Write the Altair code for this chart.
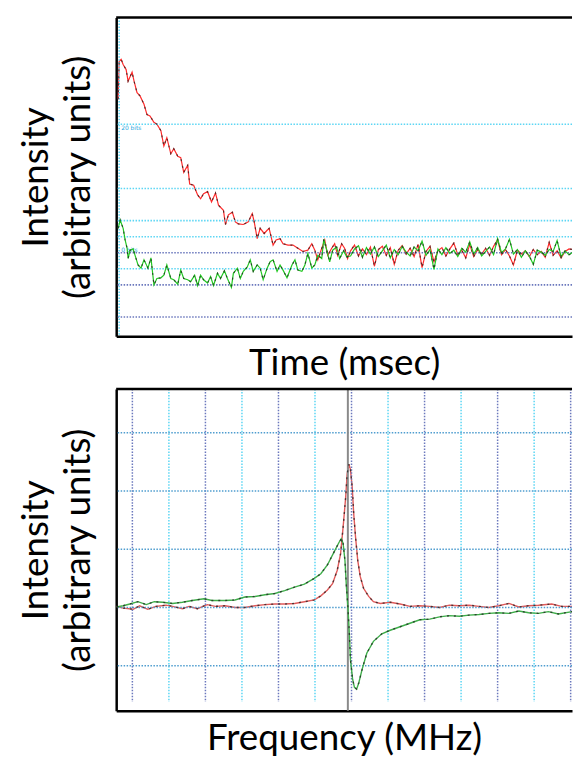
import altair as alt
import pandas as pd

# ---------------- top panel: time-domain signals ----------------
red_t = [2, 3, 5, 7, 10, 12, 16, 18, 21, 24, 28, 31, 34, 38, 41, 45, 48, 51, 55, 58,
         62, 65, 68, 72, 74, 78, 82, 85, 88, 92, 96, 100, 103, 108, 110, 113, 117, 120, 123, 128,
         133, 137, 139, 142, 145, 149, 152, 154, 158, 161, 165, 168, 173, 178, 183, 188, 193, 197, 200, 203,
         207, 210, 213, 217, 220, 223, 227, 230, 233,
         236, 240, 244, 248, 252, 256, 260, 264, 268, 272, 276, 280, 284, 288, 292, 296, 300, 304, 308, 312,
         316, 320, 324, 328, 332, 336, 340, 344, 348, 352, 356, 360, 364, 368, 372, 376, 380, 384, 388, 392,
         396, 400, 404, 408, 412, 416, 420, 424, 428, 432, 436, 440, 444, 448, 452, 456, 460]
red_v = [23.9, 29.8, 30.1, 29.3, 28.5, 26.7, 28.1, 26.7, 24.9, 24.4, 23.1, 21.5, 21.3, 20.3, 20.0, 19.0, 16.6, 17.9, 15.4, 16.2,
         15.0, 14.8, 12.5, 13.6, 10.7, 10.5, 9.0, 8.4, 9.2, 9.5, 7.9, 9.3, 7.4, 6.6, 4.4, 5.9, 6.3, 4.8, 4.5, 4.4,
         4.8, 6.1, 4.8, 2.2, 3.8, 3.0, 3.5, 3.8, 1.2, 2.0, 2.2, 1.4, 1.2, 1.2, 0.7, 0.2, 0.4, 1.4, 0.4, -1.1,
         0.7, 2.0, -0.4, 0.7, 1.4, -0.4, 1.4, 0.7, -0.9,
         0.3, 1.2, -0.5, 0.6, -0.3, 0.9, -2.1, 0.5, 1.0, -0.4, 0.8, -1.8, 0.4, 1.1, -0.2, 0.7, -0.6, 1.3, -2.3, 0.2,
         1.0, -1.4, 0.3, 0.8, -0.5, 0.6, 1.5, -0.3, 0.4, -0.8, 1.3, -0.6, 0.5, -0.2, 0.7, -0.4, 1.0, 2.0, -0.3, 0.5,
         -0.5, -1.9, 0.4, -0.2, 0.3, -0.6, 0.5, -0.3, 0.2, -0.7, 1.6, -0.4, 0.3, -0.8, 0.2, 0.6, 0.5]

green_t = [2, 4, 7, 9, 11, 12, 14, 17, 19, 22, 25, 28, 32, 35, 38, 41, 45, 48, 51, 55,
           58, 62, 65, 68, 72, 75, 79, 82, 85, 88, 92, 95, 98, 102, 105, 109, 112, 116, 118, 122,
           125, 128, 132, 135, 138, 142, 145, 148, 152, 155, 158, 162, 165, 168, 172, 177, 180, 183, 187, 190,
           193, 197, 200, 203, 207, 209, 212, 215, 218, 222, 225, 229, 232,
           236, 240, 244, 248, 252, 256, 260, 264, 268, 272, 276, 280, 284, 288, 292, 296, 300, 304, 308, 312,
           316, 320, 324, 328, 332, 336, 340, 344, 348, 352, 356, 360, 364, 368, 372, 376, 380, 384, 388, 392,
           396, 400, 404, 408, 412, 416, 420, 424, 428, 432, 436, 440, 444, 448, 452, 456, 460]
green_v = [3.8, 5.1, 3.8, 2.0, 0.7, -0.9, 0.4, 0.6, -0.4, -1.9, -2.4, -1.1, -2.4, -0.8, -5.0, -4.0, -3.9, -3.5, -1.9, -4.0,
           -4.2, -4.9, -2.7, -4.0, -4.2, -4.5, -3.5, -5.1, -3.5, -4.2, -4.7, -3.7, -5.1, -3.2, -4.0, -2.8, -4.0, -5.4, -3.2, -2.4,
           -4.0, -2.9, -2.2, -1.1, -2.9, -1.9, -2.4, -4.2, -2.4, -1.4, -1.1, -2.9, -1.9, -2.7, -3.9, -1.9, -1.1, -2.7, -2.9, -1.9,
           -0.1, -2.4, -1.9, -0.4, -0.9, 2.1, 0.4, -1.4, 0.4, 0.9, -0.9, 0.3, -0.6,
           -0.5, 0.6, 1.1, -0.7, 0.8, -0.2, 0.9, -0.6, 0.3, 1.2, -0.8, 0.5, -0.3, 1.0, 0.1, -0.5, 0.9, 0.3, 1.8, -0.4,
           0.5, -2.6, 0.6, -0.3, 0.8, -0.1, 0.4, -0.6, 0.7, 0.1, 1.7, -0.2, 0.8, -0.5, 0.2, 0.9, -0.3, 2.2, 0.0, 0.6,
           2.1, -0.2, 0.5, -0.7, 0.3, -0.5, -1.8, 0.4, 0.1, -0.4, 0.5, 0.2, 1.9, -0.6, 0.3, -0.3, 0.1]

top_grid_v = [20, 10, 5, 2.5, 0, -2.5, -5, -10]
top_grid_kind = ["minor", "minor", "minor", "minor", "major", "minor", "major", "major"]
top_label_t = [5, 5]
top_label_v = [19.4, 0.4]
top_label_text = ["20 bits", "0 bits"]

# ---------------- bottom panel: frequency spectra ----------------
abs_f = [-6.44, -6.25, -5.98, -5.80, -5.58, -5.35, -5.08, -4.90, -4.63, -4.45, -4.22, -3.95, -3.73, -3.46, -3.19,
         -2.92, -2.64, -2.37, -2.10, -1.83, -1.56, -1.29, -1.02, -0.84, -0.66, -0.52, -0.39, -0.30, -0.23, -0.16,
         -0.12, -0.07, -0.03, 0.02, 0.06, 0.11, 0.17, 0.24, 0.33, 0.47, 0.60, 0.79, 1.06, 1.33, 1.60,
         1.87, 2.14, 2.41, 2.68, 2.95, 3.22, 3.49, 3.76, 4.03, 4.31, 4.58, 4.85, 5.12, 5.48, 5.75, 6.04]
abs_v = [0.02, -0.01, -0.03, 0.03, -0.03, 0.02, 0.04, 0.02, -0.02, 0.02, -0.02, 0.05, 0.02, 0.03, 0.00,
         0.00, 0.03, 0.05, 0.06, 0.06, 0.07, 0.10, 0.13, 0.20, 0.30, 0.41, 0.64, 0.92, 1.38, 1.89,
         2.29, 2.46, 2.37, 2.06, 1.61, 1.21, 0.81, 0.53, 0.33, 0.19, 0.10, 0.07, 0.09, 0.06, 0.02,
         0.03, 0.02, 0.00, 0.04, 0.03, 0.04, 0.02, 0.00, 0.03, 0.07, 0.01, 0.03, 0.04, 0.06, 0.02, 0.02]

disp_f = [-6.44, -6.25, -6.07, -5.85, -5.62, -5.40, -5.17, -4.90, -4.63, -4.36, -4.04, -3.82, -3.46, -3.19, -2.92,
          -2.64, -2.37, -2.10, -1.83, -1.56, -1.29, -1.02, -0.84, -0.66, -0.48, -0.34, -0.28, -0.23, -0.18, -0.14,
          -0.10, -0.06, -0.03, 0.03, 0.08, 0.14, 0.20, 0.29, 0.42, 0.60, 0.83, 1.06, 1.33, 1.60, 1.87,
          2.14, 2.41, 2.68, 2.95, 3.22, 3.49, 3.76, 4.03, 4.31, 4.58, 4.85, 5.12, 5.39, 5.66, 6.04]
disp_v = [0.01, 0.03, 0.06, 0.10, 0.05, 0.10, 0.09, 0.07, 0.09, 0.12, 0.15, 0.12, 0.12, 0.13, 0.18,
          0.19, 0.22, 0.24, 0.29, 0.35, 0.40, 0.50, 0.58, 0.73, 0.95, 1.12, 1.18, 1.10, 0.81, 0.36,
          0.02, -0.44, -0.89, -1.23, -1.37, -1.40, -1.29, -1.06, -0.78, -0.58, -0.45, -0.39, -0.33, -0.27, -0.21,
          -0.20, -0.16, -0.14, -0.15, -0.13, -0.12, -0.10, -0.09, -0.10, -0.06, -0.09, -0.10, -0.07, -0.11, -0.07]

bot_hgrid_v = [-1, 0, 1, 2, 3]
bot_vgrid_f = [-6, -5, -4, -3, -2, -1, 0, 1, 2, 3, 4, 5, 6]
bot_vgrid_kind = ["major", "minor", "major", "minor", "major", "minor", "major",
                  "minor", "major", "minor", "major", "minor", "major"]
center_f = [-0.1]

# ---------------- layout constants ----------------
W = 459
H1 = 321
H2 = 324
FONT = "Lato"
FS = 37
DOT = [1.5, 1.5]

top_x = alt.Scale(domain=[0, 459], nice=False, zero=False)
top_y = alt.Scale(domain=[-13, 36.6], nice=False, zero=False)
bot_x = alt.Scale(domain=[-6.443, 6.037], nice=False, zero=False)
bot_y = alt.Scale(domain=[-1.77, 3.75], nice=False, zero=False)

red_df = pd.DataFrame({"t": red_t, "v": red_v})
green_df = pd.DataFrame({"t": green_t, "v": green_v})
tgrid_df = pd.DataFrame({"v": top_grid_v, "kind": top_grid_kind})
tlab_df = pd.DataFrame({"t": top_label_t, "v": top_label_v, "label": top_label_text})
abs_df = pd.DataFrame({"f": abs_f, "v": abs_v})
disp_df = pd.DataFrame({"f": disp_f, "v": disp_v})
hgrid_df = pd.DataFrame({"v": bot_hgrid_v})
vgrid_df = pd.DataFrame({"f": bot_vgrid_f, "kind": bot_vgrid_kind})
center_df = pd.DataFrame({"f": center_f})
one = alt.Data(values=[{}])

ytitle = ["Intensity", "(arbitrary units)"]


def X(field, scale, title=None, pad=9):
    if title is None:
        return alt.X(field, scale=scale)
    return alt.X(field, scale=scale, axis=alt.Axis(title=title, titlePadding=pad))


def Y(field, scale, title=None, pad=19):
    if title is None:
        return alt.Y(field, scale=scale)
    return alt.Y(field, scale=scale, axis=alt.Axis(title=title, titlePadding=pad))


# ---- top layers ----
t_grid = alt.Chart(tgrid_df).mark_rule(strokeDash=DOT, strokeWidth=1.6).encode(
    y=Y("v:Q", top_y),
    color=alt.Color("kind:N", scale=alt.Scale(domain=["minor", "major"],
                                              range=["#5cd6f4", "#6b78bd"]), legend=None),
)
t_vline = alt.Chart(one).mark_rule(strokeDash=DOT, strokeWidth=1.5, color="#5cd6f4").encode(
    x=alt.X(datum=3, scale=top_x))
t_labels = alt.Chart(tlab_df).mark_text(align="left", baseline="middle", fontSize=6,
                                        color="#2aa8e0", font="DejaVu Sans").encode(
    x=X("t:Q", top_x), y=Y("v:Q", top_y), text="label:N")


def trace(df, xf, xs, ys, color, xtitle=None, ytitle_=None, width=1.2, xpad=9, ypad=19):
    base = alt.Chart(df).mark_line(color=color, strokeWidth=width, clip=True).encode(
        x=X(f"{xf}:Q", xs, xtitle, xpad), y=Y("v:Q", ys, ytitle_, ypad))
    dark = alt.Chart(df).mark_line(color="#222222", strokeWidth=width, strokeDash=[2, 5],
                                   opacity=0.75, clip=True).encode(
        x=X(f"{xf}:Q", xs), y=Y("v:Q", ys))
    return base, dark


r1, r1d = trace(red_df, "t", top_x, top_y, "#ff2b2b", "Time (msec)", ytitle)
g1, g1d = trace(green_df, "t", top_x, top_y, "#22c822")
t_border = alt.Chart(one).mark_rule(color="black", strokeWidth=2.5).encode(
    x=alt.value(0), x2=alt.value(W), y=alt.value(0))

top = alt.layer(r1, t_grid, t_vline, t_labels, r1d, g1, g1d, t_border).properties(width=W, height=H1)

# ---- bottom layers ----
b_vgrid = alt.Chart(vgrid_df).mark_rule(strokeDash=DOT, strokeWidth=1.5).encode(
    x=X("f:Q", bot_x),
    y=alt.Y(datum=3.75, scale=bot_y),
    y2=alt.Y2(datum=-1.62),
    color=alt.Color("kind:N", scale=alt.Scale(domain=["minor", "major"],
                                              range=["#a3dcf2", "#7e8ea8"]), legend=None),
)
b_hgrid = alt.Chart(hgrid_df).mark_rule(strokeDash=DOT, strokeWidth=1.5, color="#4f9dcf").encode(
    y=Y("v:Q", bot_y))
b_center = alt.Chart(center_df).mark_rule(color="#8a8a8a", strokeWidth=2).encode(
    x=X("f:Q", bot_x))
r2, r2d = trace(abs_df, "f", bot_x, bot_y, "#e05a5a", "Frequency (MHz)", ytitle, 1.4, 10, 19)
g2, g2d = trace(disp_df, "f", bot_x, bot_y, "#3fae4a", None, None, 1.4)
b_border = alt.Chart(one).mark_rule(color="black", strokeWidth=2.5).encode(
    x=alt.value(0), x2=alt.value(W), y=alt.value(0))

bottom = alt.layer(r2, b_vgrid, b_hgrid, b_center, g2, g2d, r2d, b_border).properties(width=W, height=H2)

chart = alt.vconcat(top, bottom, spacing=6).properties(
    padding={"left": 17, "top": 13, "right": 0, "bottom": 0}
).configure_view(stroke=None).configure_axis(
    labels=False, ticks=False, grid=False, domainColor="black", domainWidth=2.5,
    titleFont=FONT, titleFontSize=FS, titleFontWeight="normal", titleColor="black",
    titleLineHeight=42,
)

chart.save("out.html", embed_options={"renderer": "svg", "actions": False})
